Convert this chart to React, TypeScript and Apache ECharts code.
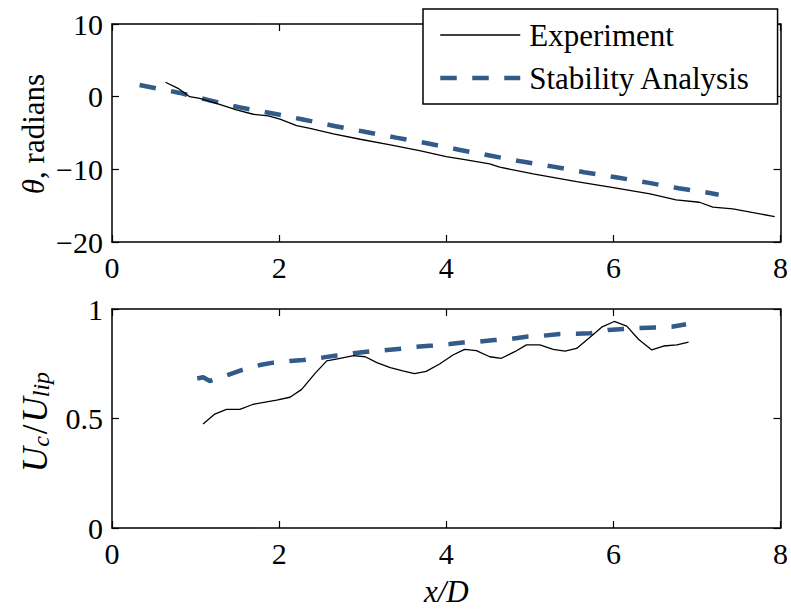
import React, { useEffect, useRef } from "react";
import * as echarts from "echarts";

const xTicks = [0, 2, 4, 6, 8];
const thetaTicks = [-20, -10, 0, 10];
const ucTicks = [0, 0.5, 1];

const expThetaX = [0.64, 0.79, 0.93, 1.05, 1.25, 1.49, 1.69, 1.87, 2.01, 2.21, 2.37, 2.65, 2.97, 3.33, 3.68, 4.0, 4.24, 4.52, 4.64, 5.04, 5.56, 6.0, 6.44, 6.75, 7.03, 7.19, 7.43, 7.93];
const expThetaY = [1.98, 1.15, 0, -0.23, -0.91, -1.83, -2.42, -2.65, -3.1, -3.99, -4.35, -5.13, -5.86, -6.64, -7.43, -8.25, -8.71, -9.26, -9.7, -10.63, -11.69, -12.52, -13.38, -14.21, -14.53, -15.21, -15.44, -16.5];

const stabThetaX = [0.33, 0.8, 1.15, 1.52, 1.91, 2.27, 2.66, 3.04, 3.4, 3.77, 4.15, 4.52, 4.89, 5.28, 5.65, 6.03, 6.41, 6.78, 7.17, 7.26];
const stabThetaY = [1.6, 0.55, -0.45, -1.46, -2.28, -3.1, -4.03, -4.86, -5.64, -6.41, -7.3, -8.1, -8.9, -9.63, -10.4, -11.09, -11.83, -12.6, -13.29, -13.5];

const expUcX = [1.09, 1.23, 1.37, 1.53, 1.69, 1.97, 2.13, 2.27, 2.43, 2.57, 2.73, 2.89, 3.03, 3.17, 3.33, 3.48, 3.62, 3.76, 3.92, 4.08, 4.22, 4.36, 4.52, 4.66, 4.82, 4.96, 5.12, 5.28, 5.42, 5.56, 5.72, 5.86, 6.01, 6.16, 6.3, 6.46, 6.6, 6.76, 6.9];
const expUcY = [0.475, 0.52, 0.542, 0.542, 0.565, 0.584, 0.597, 0.633, 0.706, 0.763, 0.775, 0.787, 0.782, 0.755, 0.732, 0.717, 0.705, 0.715, 0.749, 0.79, 0.816, 0.81, 0.782, 0.775, 0.805, 0.836, 0.836, 0.816, 0.808, 0.82, 0.871, 0.917, 0.943, 0.922, 0.862, 0.813, 0.831, 0.836, 0.849];

const stabUcX = [1.02, 1.09, 1.17, 1.39, 1.55, 1.77, 1.93, 2.13, 2.29, 2.53, 2.69, 2.89, 3.05, 3.29, 3.47, 3.64, 3.84, 4.04, 4.2, 4.4, 4.58, 4.78, 4.98, 5.16, 5.36, 5.56, 5.72, 5.94, 6.12, 6.32, 6.5, 6.7, 6.87];
const stabUcY = [0.683, 0.688, 0.671, 0.699, 0.721, 0.744, 0.755, 0.763, 0.767, 0.779, 0.788, 0.798, 0.805, 0.813, 0.819, 0.828, 0.833, 0.84, 0.847, 0.851, 0.858, 0.864, 0.874, 0.878, 0.886, 0.887, 0.889, 0.904, 0.909, 0.913, 0.916, 0.919, 0.93];

const seriesNames = ["Experiment", "Stability Analysis"];

const FONT = "Liberation Serif";
const BLUE = "#325b8a";
const pair = (xs: number[], ys: number[]) => xs.map((x, i) => [x, ys[i]]);
const fmtNum = (v: number) => String(v).replace("-", "\u2212");

export default function App() {
  const ref = useRef<HTMLDivElement>(null);
  useEffect(() => {
    if (!ref.current) return;
    const chart = echarts.init(ref.current, undefined, { renderer: "svg" });
    const axisLine = { show: true, onZero: false, lineStyle: { color: "#000", width: 1.5 } };
    const tick = { show: true, inside: true, length: 7, lineStyle: { color: "#000", width: 1.2 } };
    const mkLabel = (show: boolean, margin: number) => ({
      show,
      fontFamily: FONT,
      fontSize: 30,
      color: "#000",
      margin,
      formatter: fmtNum,
    });
    const mkX = (grid: number, pos: "bottom" | "top", showLabel: boolean, name?: string) => ({
      type: "value",
      gridIndex: grid,
      position: pos,
      min: xTicks[0],
      max: xTicks[xTicks.length - 1],
      interval: 2,
      axisLine,
      axisTick: tick,
      splitLine: { show: false },
      axisLabel: mkLabel(showLabel, 10),
      name: name,
      nameLocation: "middle",
      nameGap: 48,
      nameTextStyle: { fontFamily: FONT, fontSize: 31, fontStyle: "italic", color: "#000" },
    });
    const mkY = (grid: number, pos: "left" | "right", showLabel: boolean, ticks: number[], interval: number) => ({
      type: "value",
      gridIndex: grid,
      position: pos,
      min: ticks[0],
      max: ticks[ticks.length - 1],
      interval,
      axisLine,
      axisTick: tick,
      splitLine: { show: false },
      axisLabel: mkLabel(showLabel, 9),
    });
    const expStyle = { color: "#000", width: 1.3, type: "solid" };
    const stabStyle = { color: BLUE, width: 4.5, type: [16.5, 15.5], cap: "butt" };
    chart.setOption({
      animation: false,
      backgroundColor: "#fff",
      textStyle: { fontFamily: FONT },
      grid: [
        { left: 112, top: 24, width: 669, height: 218, containLabel: false },
        { left: 112, top: 309, width: 669, height: 219, containLabel: false },
      ],
      xAxis: [
        mkX(0, "bottom", true),
        mkX(0, "top", false),
        mkX(1, "bottom", true, "x/D"),
        mkX(1, "top", false),
      ],
      yAxis: [
        mkY(0, "left", true, thetaTicks, 10),
        mkY(0, "right", false, thetaTicks, 10),
        mkY(1, "left", true, ucTicks, 0.5),
        mkY(1, "right", false, ucTicks, 0.5),
      ],
      legend: {
        data: seriesNames,
        orient: "vertical",
        left: 423,
        top: 9,
        itemWidth: 80,
        itemHeight: 20,
        itemGap: 9,
        padding: [9, 27, 9, 15],
        borderColor: "#000",
        borderWidth: 1.5,
        borderRadius: 0,
        backgroundColor: "#fff",
        itemStyle: { opacity: 0 },
        lineStyle: { width: "inherit" },
        textStyle: { fontFamily: FONT, fontSize: 31, color: "#000", lineHeight: 34, padding: [0, 0, 0, 4] },
        selectedMode: false,
        z: 10,
      },
      graphic: [
        {
          type: "text",
          x: 33,
          y: 134,
          rotation: Math.PI / 2,
          style: {
            text: "{i|\u03b8}{n|, radians}",
            align: "center",
            verticalAlign: "middle",
            fill: "#000",
            rich: {
              i: { fontFamily: FONT, fontSize: 31, fontStyle: "italic", fill: "#000", lineHeight: 34 },
              n: { fontFamily: FONT, fontSize: 31, fill: "#000", lineHeight: 34 },
            },
          },
        },
        {
          type: "text",
          x: 35,
          y: 422,
          rotation: Math.PI / 2,
          style: {
            text: "{i|U}{s|c}{n|/}{i|U}{s|lip}",
            align: "center",
            verticalAlign: "middle",
            fill: "#000",
            rich: {
              i: { fontFamily: FONT, fontSize: 35, fontStyle: "italic", fill: "#000", lineHeight: 36 },
              n: { fontFamily: FONT, fontSize: 35, fill: "#000", lineHeight: 36, padding: [0, 2, 0, 2] },
              s: { fontFamily: FONT, fontSize: 24, fontStyle: "italic", fill: "#000", lineHeight: 14, verticalAlign: "bottom" },
            },
          },
        },
      ],
      series: [
        {
          name: seriesNames[0],
          type: "line",
          xAxisIndex: 0,
          yAxisIndex: 0,
          data: pair(expThetaX, expThetaY),
          symbol: "none",
          lineStyle: expStyle,
          itemStyle: { color: "#000" },
          z: 3,
        },
        {
          name: seriesNames[1],
          type: "line",
          xAxisIndex: 0,
          yAxisIndex: 0,
          data: pair(stabThetaX, stabThetaY),
          symbol: "none",
          lineStyle: stabStyle,
          itemStyle: { color: BLUE },
          z: 2,
        },
        {
          name: seriesNames[0],
          type: "line",
          xAxisIndex: 2,
          yAxisIndex: 2,
          data: pair(expUcX, expUcY),
          symbol: "none",
          lineStyle: expStyle,
          itemStyle: { color: "#000" },
          z: 3,
        },
        {
          name: seriesNames[1],
          type: "line",
          xAxisIndex: 2,
          yAxisIndex: 2,
          data: pair(stabUcX, stabUcY),
          symbol: "none",
          lineStyle: stabStyle,
          itemStyle: { color: BLUE },
          z: 2,
        },
      ],
    });
    return () => chart.dispose();
  }, []);
  return (
    <div
      ref={ref}
      style={{ position: "fixed", left: 0, top: 0, width: 791, height: 613, background: "#fff" }}
    />
  );
}
